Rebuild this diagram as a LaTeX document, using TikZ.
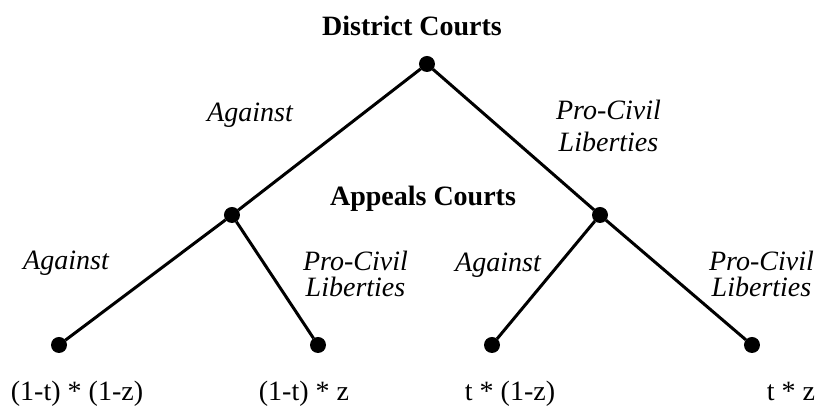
\documentclass[tikz,border=0pt]{standalone}
\usepackage{fontspec}
\setmainfont{Liberation Serif}[ItalicFont = {Liberation Serif Italic},
                                BoldFont = {Liberation Serif Bold}]
\usepackage{tkz-graph}
\usetikzlibrary{arrows}
\usetikzlibrary{shapes}

\begin{document}
\begin{tikzpicture}[scale = 10]
\tikzstyle{VertexStyle}=[shape = circle,
                         fill = black,
                         minimum size = 8pt,
                         inner sep = 0pt]
\tikzstyle{EdgeStyle}=[line width = 1.5pt]
\tikzstyle{court}=[font = \fontsize{14}{15}\selectfont\bfseries, anchor = base, inner sep = 0pt]
\tikzstyle{branch}=[font = \fontsize{14}{13}\selectfont\itshape, inner sep = 0pt, align = center]
\tikzstyle{payoff}=[font = \fontsize{14}{15}\selectfont, anchor = base, inner sep = 0pt]
\useasboundingbox (0,0) rectangle (1.44450,0.71346);
\Vertex[x = 0.75037, y = 0.60100, NoLabel]{root}
\Vertex[x = 0.40769, y = 0.33564, NoLabel]{against}
\Vertex[x = 1.05438, y = 0.33564, NoLabel]{pro}
\Vertex[x = 0.10368, y = 0.10720, NoLabel]{aa}
\Vertex[x = 0.55882, y = 0.10720, NoLabel]{ap}
\Vertex[x = 0.86459, y = 0.10720, NoLabel]{pa}
\Vertex[x = 1.32149, y = 0.10720, NoLabel]{pp}
\Edge[](root)(against)
\Edge[](root)(pro)
\Edge[](against)(aa)
\Edge[](against)(ap)
\Edge[](pro)(pa)
\Edge[](pro)(pp)
\node[court] (district) at (0.72401,0.65020) {District Courts};
\node[court] (appeals) at (0.74334,0.35146) {Appeals Courts};
\node[branch, anchor = base] (ltop) at (0.43933,0.49907) {Against};
\node[branch] (rtop) at (1.06932,0.49292) {Pro-Civil\\[3pt]Liberties};
\node[branch, anchor = base] (lleft) at (0.11598,0.23899) {Against};
\node[branch] (lright) at (0.62472,0.23196) {Pro-Civil\\Liberties};
\node[branch, anchor = base] (rleft) at (0.87514,0.23548) {Against};
\node[branch] (rright) at (1.33818,0.23196) {Pro-Civil\\Liberties};
\node[payoff] (paa) at (0.13531,0.00879) {(1-t) * (1-z)};
\node[payoff] (pap) at (0.53422,0.00879) {(1-t) * z};
\node[payoff] (ppa) at (0.89622,0.00879) {t * (1-z)};
\node[payoff] (ppp) at (1.39002,0.00879) {t * z};
\end{tikzpicture}
\end{document}
